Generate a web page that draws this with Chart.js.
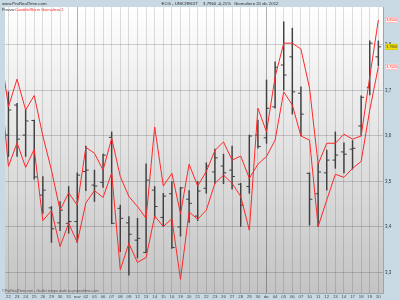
<!DOCTYPE html>
<html>
<head>
<meta charset="utf-8">
<title>UNICREDIT - Giornaliero</title>
<script src="https://cdn.jsdelivr.net/npm/chart.js@4.4.0/dist/chart.umd.min.js"></script>
<style>
  html, body { margin: 0; padding: 0; background: #c8d9e3; }
  #wrap { width: 400px; height: 300px; }
</style>
</head>
<body>
<div id="wrap"><canvas id="chart" width="400" height="300"></canvas></div>
<script>
// first entry (19 ott) only feeds the two red lines, it sits left of the visible area
const days = ["19", "22", "23", "24", "25", "26", "29", "30", "31", "nov", "02",
  "05", "06", "07", "08", "09", "12", "13", "14", "15", "16", "19", "20", "21",
  "22", "23", "26", "27", "28", "29", "30", "dic", "04", "05", "06", "07",
  "10", "11", "12", "13", "14", "17", "18", "19", "20"];

const openPrices = [null, 3.602, 3.668, 3.602, 3.634, 3.470, 3.442, 3.409, 3.408,
  3.412, 3.522, 3.492, 3.498, 3.597, 3.441, 3.409, 3.371, 3.344, 3.481, 3.421,
  3.473, 3.400, 3.461, 3.424, 3.485, 3.521, 3.534, 3.525, 3.494, 3.489, 3.602,
  3.596, 3.664, 3.756, 3.774, 3.694, 3.518, 3.473, 3.519, 3.547, 3.565, 3.571,
  3.622, 3.707, 3.774];
const highPrices = [null, 3.697, 3.672, 3.657, 3.635, 3.511, 3.445, 3.456, 3.489,
  3.519, 3.578, 3.525, 3.560, 3.609, 3.448, 3.423, 3.419, 3.539, 3.489, 3.474,
  3.500, 3.487, 3.480, 3.500, 3.541, 3.571, 3.560, 3.578, 3.496, 3.602, 3.635,
  3.723, 3.763, 3.851, 3.837, 3.708, 3.519, 3.540, 3.569, 3.609, 3.585, 3.590,
  3.688, 3.809, 3.809];
const lowPrices = [null, 3.555, 3.555, 3.555, 3.505, 3.430, 3.366, 3.392, 3.386,
  3.366, 3.480, 3.456, 3.487, 3.407, 3.346, 3.294, 3.332, 3.343, 3.419, 3.401,
  3.353, 3.380, 3.410, 3.414, 3.474, 3.496, 3.495, 3.483, 3.401, 3.474, 3.573,
  3.584, 3.661, 3.701, 3.648, 3.600, 3.404, 3.401, 3.481, 3.529, 3.519, 3.527,
  3.602, 3.690, 3.754];
const closePrices = [null, 3.657, 3.593, 3.633, 3.510, 3.481, 3.396, 3.437, 3.412,
  3.514, 3.525, 3.490, 3.558, 3.408, 3.419, 3.384, 3.375, 3.503, 3.445, 3.468,
  3.355, 3.486, 3.452, 3.479, 3.534, 3.552, 3.519, 3.511, 3.448, 3.600, 3.577,
  3.661, 3.751, 3.734, 3.697, 3.648, 3.461, 3.521, 3.547, 3.558, 3.560, 3.573,
  3.685, 3.804, 3.796];

const bandA = [3.796, 3.664, 3.725, 3.657, 3.689, 3.600, 3.525, 3.437, 3.475,
  3.448, 3.575, 3.562, 3.525, 3.595, 3.511, 3.467, 3.445, 3.419, 3.620, 3.490,
  3.518, 3.429, 3.538, 3.490, 3.522, 3.568, 3.587, 3.547, 3.556, 3.507, 3.538,
  3.555, 3.591, 3.697, 3.668, 3.600, 3.591, 3.401, 3.459, 3.516, 3.509, 3.529,
  3.544, 3.657, 3.752];
const bandB = [3.734, 3.533, 3.585, 3.531, 3.571, 3.414, 3.436, 3.357, 3.408,
  3.366, 3.453, 3.480, 3.465, 3.519, 3.306, 3.364, 3.322, 3.333, 3.424, 3.401,
  3.418, 3.285, 3.433, 3.417, 3.437, 3.496, 3.514, 3.496, 3.467, 3.393, 3.661,
  3.609, 3.730, 3.804, 3.804, 3.791, 3.705, 3.538, 3.584, 3.584, 3.604, 3.593,
  3.600, 3.730, 3.855];

const priceTicks = [3.3, 3.4, 3.5, 3.6, 3.7, 3.8];

const FONT = "'Liberation Sans', Arial, sans-serif";
const BAR_COLOR = "#404040";
const RED = "rgb(255, 40, 40)";

function fmt(v, dec) {
  return v.toFixed(dec).replace(".", ",");
}

function points(values, shift) {
  const out = [];
  values.forEach((v, i) => {
    if (v !== null) out.push({ x: i + shift, y: v });
  });
  return out;
}

const ranges = [];
days.forEach((d, i) => {
  if (lowPrices[i] !== null) ranges.push({ x: i, y: [lowPrices[i], highPrices[i]] });
});

const last = closePrices.length - 1;
const change = (closePrices[last] - closePrices[last - 1]) / closePrices[last - 1] * 100;

const backdrop = {
  id: "backdrop",
  beforeDraw(chart) {
    const { ctx, chartArea: a } = chart;
    ctx.save();
    ctx.fillStyle = "#c8d9e3";
    ctx.fillRect(0, 0, chart.width, chart.height);
    const g = ctx.createLinearGradient(0, a.top, 0, a.bottom);
    g.addColorStop(0, "#ffffff");
    g.addColorStop(1, "#c4c4c4");
    ctx.fillStyle = g;
    ctx.fillRect(a.left, a.top, a.right - a.left, a.bottom - a.top);
    ctx.restore();
  }
};

function tag(ctx, y, text, fill, stroke, color) {
  ctx.fillStyle = fill;
  ctx.fillRect(385, y - 3, 13, 6);
  ctx.strokeStyle = stroke;
  ctx.lineWidth = 0.5;
  ctx.strokeRect(385.5, y - 2.5, 12, 5);
  ctx.fillStyle = color;
  ctx.font = "3.6px " + FONT;
  ctx.textBaseline = "middle";
  ctx.fillText(text, 386.3, y + 0.2);
}

const texts = {
  id: "texts",
  afterDraw(chart) {
    const ctx = chart.ctx;
    const yScale = chart.scales.y;
    ctx.save();
    ctx.textBaseline = "middle";
    ctx.font = "4.3px " + FONT;
    ctx.fillStyle = "#2a2a2a";
    ctx.fillText("www.ProRealTime.com", 2, 3.5);
    const price = fmt(closePrices[last], 4) + " " + (change >= 0 ? "+" : "") + fmt(change, 2) + "%";
    const priceX = 231 - ctx.measureText(price).width;
    ctx.fillText(price, priceX, 3.5);
    const title = "ECG - UNICREDIT";
    ctx.fillText(title, priceX - 5 - ctx.measureText(title).width, 3.5);
    ctx.fillText("Giornaliero 20 dic 2012", 234, 3.5);

    ctx.font = "3.9px " + FONT;
    ctx.fillStyle = "#333";
    ctx.fillText("Prezzo:", 2, 9.5);
    ctx.fillStyle = RED;
    ctx.fillText("Candele/Barre Giornaliero 2", 15, 9.5);

    ctx.font = "3.6px " + FONT;
    ctx.fillStyle = "#555";
    ctx.fillText("\u00a9ProRealTime.com - Grafici tempo reale su prorealtime.com", 2, 290.5);

    tag(ctx, yScale.getPixelForValue(bandB[last]), fmt(bandB[last], 4), "#fff4f4", "#ff9090", RED);
    tag(ctx, yScale.getPixelForValue(closePrices[last]), fmt(closePrices[last], 4), "#f4e400", "#c8b800", "#333");
    tag(ctx, yScale.getPixelForValue(bandA[last]), fmt(bandA[last], 4), "#fff4f4", "#ff9090", RED);
    ctx.restore();
  }
};

const ctx = document.getElementById("chart").getContext("2d");
const chart = new Chart(ctx, {
  type: "line",
  data: {
    datasets: [
      {
        data: points(bandA, 0),
        borderColor: RED,
        borderWidth: 1,
        pointRadius: 0,
        tension: 0,
      },
      {
        data: points(bandB, 0),
        borderColor: RED,
        borderWidth: 1,
        pointRadius: 0,
        tension: 0,
      },
      {
        data: points(openPrices, -0.17),
        showLine: false,
        pointStyle: "line",
        pointRadius: 1.4,
        pointBorderWidth: 1,
        pointBorderColor: BAR_COLOR,
      },
      {
        data: points(closePrices, 0.17),
        showLine: false,
        pointStyle: "line",
        pointRadius: 1.4,
        pointBorderWidth: 1,
        pointBorderColor: BAR_COLOR,
      },
      {
        type: "bar",
        data: ranges,
        backgroundColor: BAR_COLOR,
        borderWidth: 0,
        barThickness: 0.8,
        grouped: false,
      },
    ],
  },
  options: {
    responsive: false,
    animation: false,
    devicePixelRatio: 1,
    layout: { padding: { left: 2, top: 7, right: 0, bottom: 0 } },
    plugins: {
      legend: { display: false },
      tooltip: { enabled: false },
    },
    scales: {
      x: {
        type: "linear",
        position: "bottom",
        min: 0.6,
        max: 44.54,
        offset: false,
        afterFit(scale) { scale.height = 7; },
        afterBuildTicks(scale) {
          scale.ticks = days.map((d, i) => ({ value: i })).filter((t) => t.value >= 1);
        },
        grid: {
          offset: false,
          drawTicks: false,
          lineWidth: 1,
          color: (c) => (c.tick && isNaN(Number(days[c.tick.value])) ? "rgba(0,0,0,0.3)" : "rgba(0,0,0,0.13)"),
        },
        border: { display: true, color: "#9aa5ad" },
        ticks: {
          autoSkip: false,
          maxRotation: 0,
          padding: 1.5,
          color: "#444",
          font: { size: 4.3, family: FONT },
          callback: (v) => days[v],
        },
      },
      y: {
        position: "right",
        min: 3.2549,
        max: 3.8835,
        afterFit(scale) { scale.width = 17; },
        afterBuildTicks(scale) {
          scale.ticks = priceTicks.map((v) => ({ value: v }));
        },
        grid: { drawTicks: false, color: "rgba(0,0,0,0.17)" },
        border: { display: true, color: "#9aa5ad" },
        ticks: {
          padding: 2,
          color: "#333",
          font: { size: 4.5, family: FONT },
          callback: (v) => fmt(v, 1),
        },
      },
    },
  },
  plugins: [backdrop, texts],
});
</script>
</body>
</html>
